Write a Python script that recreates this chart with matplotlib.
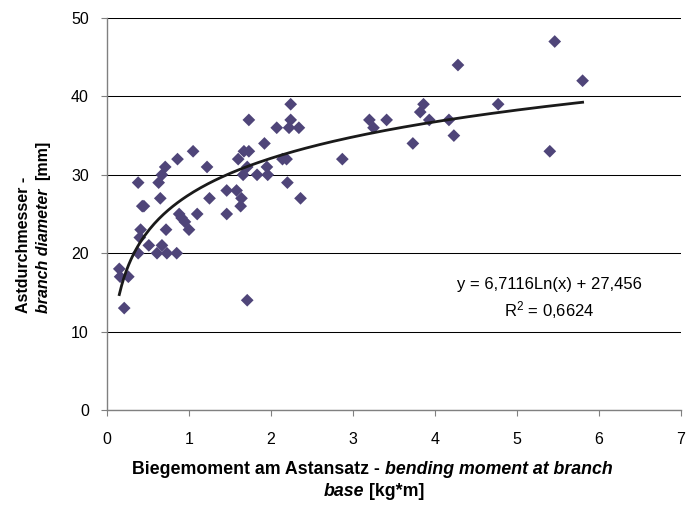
import matplotlib
matplotlib.use('Agg')
import matplotlib.pyplot as plt
from matplotlib.transforms import IdentityTransform
import numpy as np

plt.rcParams['font.family'] = ['Liberation Sans', 'DejaVu Sans']

# Biegemoment [kg*m] und Astdurchmesser [mm]
moment = [0.15, 0.16, 0.26, 0.21, 0.38, 0.43, 0.45, 0.41, 0.40, 0.38,
          0.51, 0.61, 0.67, 0.73, 0.85, 0.72, 0.65, 0.63, 0.67, 0.71,
          0.86, 1.05, 1.22, 1.25, 1.10, 0.88, 0.91, 0.95, 1.00, 1.46,
          1.46, 1.58, 1.64, 1.63, 1.66, 1.60, 1.67, 1.73, 1.71, 1.73,
          1.71, 1.83, 1.96, 1.95, 1.92, 2.07, 2.14, 2.19, 2.20, 2.24,
          2.24, 2.22, 2.34, 2.36, 2.87, 3.20, 3.25, 3.41, 3.73, 3.82,
          3.86, 3.93, 4.17, 4.23, 4.28, 4.77, 5.40, 5.46, 5.80]
diameter = [18, 17, 17, 13, 29, 26, 26, 23, 22, 20,
            21, 20, 21, 20, 20, 23, 27, 29, 30, 31,
            32, 33, 31, 27, 25, 25, 24.5, 24, 23, 28,
            25, 28, 27, 26, 30, 32, 33, 33, 14, 37,
            31, 30, 30, 31, 34, 36, 32, 32, 29, 39,
            37, 36, 36, 27, 32, 37, 36, 37, 34, 38,
            39, 37, 37, 35, 44, 39, 33, 47, 42]

# logarithmische Trendlinie
coef_a = 6.7116
coef_b = 27.456
r_squared = 0.6624

x_ticks = [0, 1, 2, 3, 4, 5, 6, 7]
y_ticks = [0, 10, 20, 30, 40, 50]

W, H = 686, 505
fig = plt.figure(figsize=(W / 100, H / 100), dpi=100)
ax = fig.add_axes([107 / W, 1 - 410 / H, (681 - 107) / W, (410 - 18) / H])

ax.set_xlim(0, 7)
ax.set_ylim(0, 50)
ax.set_xticks(x_ticks)
ax.set_yticks(y_ticks)
ax.tick_params(labelsize=11.5, length=4, width=0.8, color='#808080')
ax.tick_params(axis='y', pad=9)
ax.tick_params(axis='x', pad=12)
for side in ['top', 'right']:
    ax.spines[side].set_visible(False)
for side in ['left', 'bottom']:
    ax.spines[side].set_color('#808080')
    ax.spines[side].set_linewidth(1.0)
ax.grid(axis='y', color='black', linewidth=0.75)
ax.set_axisbelow(True)

ax.scatter(moment, diameter, marker='D', s=42, color='#4f4579',
           edgecolors='none', zorder=3)

xs = np.linspace(min(moment), max(moment), 200)
ax.plot(xs, coef_a * np.log(xs) + coef_b, color='#1a1a1a', linewidth=2.0, zorder=4)

eq = 'y = {}Ln(x) + {}'.format(str(coef_a).replace('.', ','),
                               str(coef_b).replace('.', ','))
ax.text(549, H - 284, eq, transform=IdentityTransform(),
        ha='center', va='center', fontsize=12)
ax.text(549, H - 310, '$\\mathregular{R^2}$ = ' + str(r_squared).replace('.', ','),
        transform=IdentityTransform(), ha='center', va='center', fontsize=12)

renderer = fig.canvas.get_renderer()


def label_run(pieces, x, y, vertical=False, start=False, size=11.5, gap=4):
    # Textstuecke mit wechselndem Stil hintereinander setzen
    arts = []
    for s, style in pieces:
        t = fig.text(0, 0, s, transform=IdentityTransform(), fontsize=size,
                     fontweight='bold', fontstyle=style,
                     rotation=90 if vertical else 0,
                     ha='left' if not vertical else 'center',
                     va='center' if not vertical else 'bottom')
        arts.append(t)
    ext = [t.get_window_extent(renderer) for t in arts]
    lens = [e.height if vertical else e.width for e in ext]
    total = sum(lens) + gap * (len(arts) - 1)
    if vertical:
        pos = y if start else y - total / 2
    else:
        pos = x - total / 2
    for t, ln in zip(arts, lens):
        t.set_position((x, pos) if vertical else (pos, y))
        pos += ln + gap


label_run([('Biegemoment am Astansatz -', 'normal'),
           ('bending moment at branch', 'italic')], 372, H - 469, size=12.8, gap=5)
label_run([('base', 'italic'), ('[kg*m]', 'normal')], 374, H - 492, size=12.8, gap=5)
label_run([('Astdurchmesser -', 'normal')], 24, H - 313, vertical=True, start=True)
label_run([('branch diameter', 'italic'), ('[mm]', 'normal')], 43, H - 313,
          vertical=True, start=True, gap=9)

fig.savefig('out.png', dpi=100)
